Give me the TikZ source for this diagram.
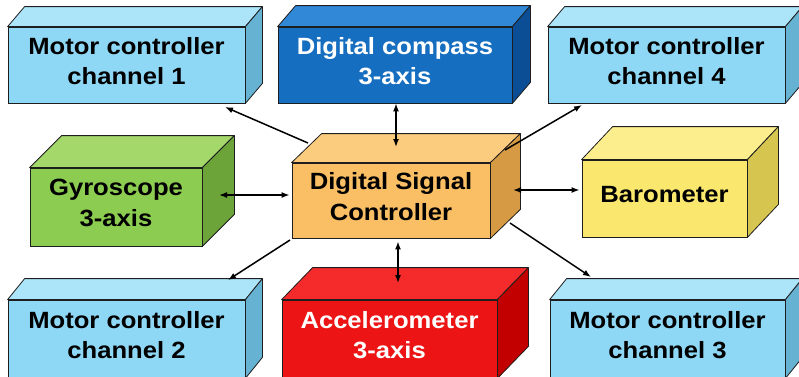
\documentclass[tikz,border=0pt]{standalone}
\usepackage{fontspec}
\setmainfont{Liberation Sans}[FakeStretch=1.09]
\usetikzlibrary{arrows.meta}

% front / top / side shades of each block
\definecolor{mcF}{RGB}{142,216,246}\definecolor{mcT}{RGB}{172,228,250}\definecolor{mcS}{RGB}{102,178,210}
\definecolor{cpF}{RGB}{22,110,192}\definecolor{cpT}{RGB}{48,136,214}\definecolor{cpS}{RGB}{12,78,150}
\definecolor{dsF}{RGB}{250,190,100}\definecolor{dsT}{RGB}{252,204,126}\definecolor{dsS}{RGB}{214,154,68}
\definecolor{gyF}{RGB}{140,204,80}\definecolor{gyT}{RGB}{164,216,106}\definecolor{gyS}{RGB}{108,164,58}
\definecolor{baF}{RGB}{250,232,110}\definecolor{baT}{RGB}{252,238,140}\definecolor{baS}{RGB}{214,198,80}
\definecolor{acF}{RGB}{236,20,20}\definecolor{acT}{RGB}{245,42,42}\definecolor{acS}{RGB}{194,0,0}
\definecolor{edge}{RGB}{30,30,30}

\tikzset{
  box/.style={draw=edge,line width=0.8pt,inner sep=0pt,align=center,
    font=\bfseries\fontsize{23.5}{30.5}\selectfont,
    execute at end node={\rule[-8pt]{0pt}{8pt}}},
  face/.style={draw=edge,line width=0.8pt,line join=round},
  link/.style={line width=1.5pt,-{Latex[length=8pt,width=6pt]}},
  both/.style={line width=1.5pt,{Latex[length=8pt,width=6pt]}-{Latex[length=8pt,width=6pt]}},
}

\begin{document}
\begin{tikzpicture}[x=1pt,y=-1pt]
\newcommand{\block}[8]{%
  \node[box,minimum width=#3,minimum height=#4,fill=#6F,text=#7] (#1) at #2 {#8};
  \path (#1.north east) ++#5 coordinate (#1-b) (#1.south east) ++#5 coordinate (#1-c);
  \filldraw[face,fill=#6T] (#1.north west) -- ++#5 -- (#1-b) -- (#1.north east) -- cycle;
  \filldraw[face,fill=#6S] (#1.north east) -- (#1-b) -- (#1-c) -- (#1.south east) -- cycle;}

\useasboundingbox (0,0) rectangle (799,376);
\clip (0,0) rectangle (799,376);

\block{mc1}{(126.5,65)}{237pt}{76pt}{(17,-20)}{mc}{black}{Motor controller\\channel 1}
\block{cmp}{(395,65)}{234pt}{76pt}{(18,-21)}{cp}{white}{Digital compass\\3-axis}
\block{mc4}{(666.5,65)}{237pt}{76pt}{(17,-20)}{mc}{black}{Motor controller\\channel 4}
\block{gyr}{(116,207)}{172pt}{78pt}{(32,-32)}{gy}{black}{Gyroscope\\3-axis}
\block{dsc}{(391,200.5)}{198pt}{75pt}{(30,-29)}{ds}{black}{Digital Signal\\Controller}
\block{bar}{(664.5,198.5)}{165pt}{77pt}{(31,-33)}{ba}{black}{Barometer}
\block{mc2}{(126.5,339)}{237pt}{78pt}{(17,-21)}{mc}{black}{Motor controller\\channel 2}
\block{acc}{(389.5,339)}{215pt}{78pt}{(31,-32)}{ac}{white}{Accelerometer\\3-axis}
\block{mc3}{(667.5,339)}{235pt}{78pt}{(17,-21)}{mc}{black}{Motor controller\\channel 3}

% arrow ends on the top and side faces
\coordinate (dsc-n) at (396,147); \coordinate (acc-n) at (398,283);
\coordinate (gyr-e) at (219,195); \coordinate (dsc-e) at (513,190);
\coordinate (dsc-nw) at (308,143); \coordinate (dsc-ne) at (505,150);
\coordinate (dsc-sw) at (290,240); \coordinate (dsc-se) at (510,223);
\coordinate (mc1-s) at (225,107); \coordinate (mc4-s) at (582,105);
\coordinate (mc2-n) at (228,280); \coordinate (mc3-n) at (591,277);

\draw[both] (dsc-n) -- (dsc-n |- cmp.south);
\draw[both,shorten <=3pt] (acc-n |- dsc.south) -- (acc-n);
\draw[both,shorten >=2pt] (gyr-e) -- (gyr-e -| dsc.west);
\draw[both,shorten >=2pt] (dsc-e) -- (dsc-e -| bar.west);
\draw[link] (dsc-nw) -- (mc1-s);
\draw[link] (dsc-ne) -- (mc4-s);
\draw[link] (dsc-sw) -- (mc2-n);
\draw[link] (dsc-se) -- (mc3-n);
\end{tikzpicture}
\end{document}
